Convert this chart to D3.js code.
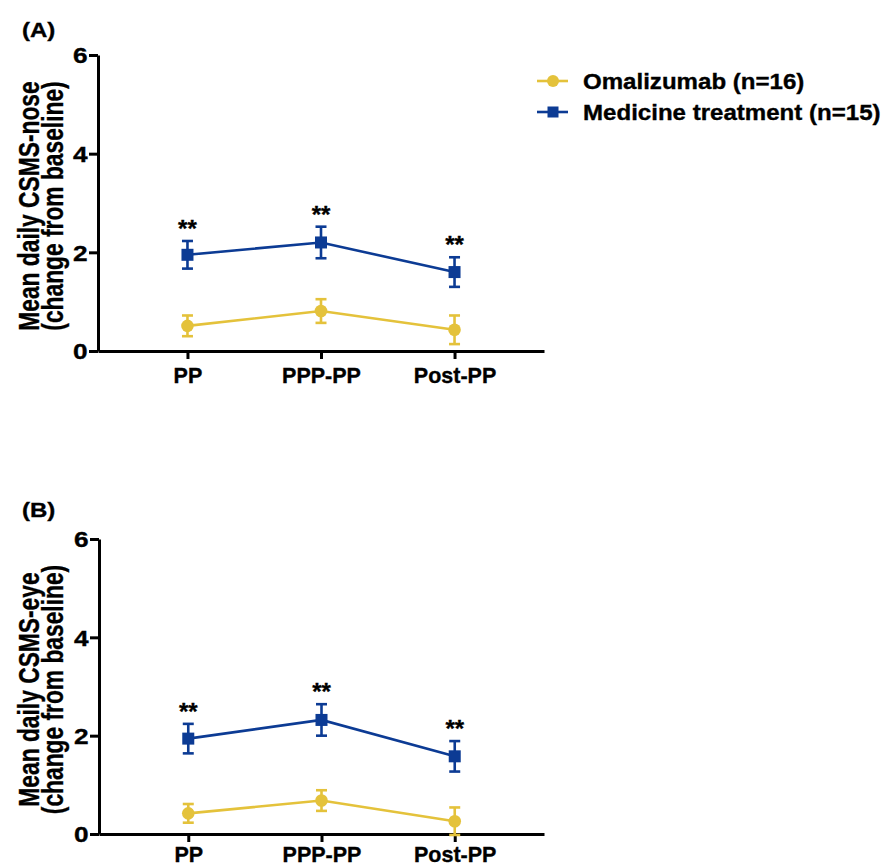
<!DOCTYPE html>
<html>
<head>
<meta charset="utf-8">
<script src="https://cdn.jsdelivr.net/npm/d3@7"></script>
<style>
  html, body { margin: 0; padding: 0; background: #fff; }
  svg { display: block; }
  text { font-family: "Liberation Sans", Arial, sans-serif; font-weight: bold; fill: #000;
         stroke: #000; stroke-width: 0.35px; }
</style>
</head>
<body>
<div id="chart"></div>
<script>
// values
const categories = ["PP", "PPP-PP", "Post-PP"];
const yTicks = [0, 2, 4, 6];
const seriesNames = ["Omalizumab (n=16)", "Medicine treatment (n=15)"];

const noseOmaMean = [0.51, 0.81, 0.43];
const noseOmaErr  = [0.21, 0.24, 0.29];
const noseMedMean = [1.95, 2.20, 1.60];
const noseMedErr  = [0.28, 0.32, 0.30];
const noseStars   = ["**", "**", "**"];

const eyeOmaMean = [0.42, 0.68, 0.26];
const eyeOmaErr  = [0.19, 0.21, 0.28];
const eyeMedMean = [1.94, 2.32, 1.58];
const eyeMedErr  = [0.30, 0.32, 0.31];
const eyeStars   = ["**", "**", "**"];

const YELLOW = "#e4c23b";
const BLUE = "#0c3b94";

const svg = d3.select("#chart").append("svg")
    .attr("width", 882).attr("height", 867);

// text with a horizontal stretch, like the source figure's lettering
const label = (parent, x, y, t, size, sx) => parent.append("text")
    .attr("transform", `translate(${x},${y}) scale(${sx},1)`)
    .attr("font-size", size).text(t);

const panels = [
    {label: "(A)", labelY: 37, title: "Mean daily CSMS-nose", top: 55, bottom: 351, axisX: 98, catY: 32,
     oma: [noseOmaMean, noseOmaErr], med: [noseMedMean, noseMedErr], stars: noseStars},
    {label: "(B)", labelY: 517, title: "Mean daily CSMS-eye", top: 539, bottom: 834, axisX: 99, catY: 28,
     oma: [eyeOmaMean, eyeOmaErr], med: [eyeMedMean, eyeMedErr], stars: eyeStars}
];

panels.forEach(p => {
    const g = svg.append("g");
    const y = d3.scaleLinear().domain([0, 6]).range([p.bottom, p.top]);
    const x = d3.scalePoint().domain(categories).range([p.axisX, 544]).padding(0.67);

    label(g, 22, p.labelY, p.label, 20.5, 1.17);

    // y axis
    const ya = g.append("g").attr("transform", `translate(${p.axisX},0)`)
        .call(d3.axisLeft(y).tickValues(yTicks).tickFormat(d3.format("d"))
            .tickSize(9).tickSizeOuter(0));
    // x axis
    const xa = g.append("g").attr("transform", `translate(0,${p.bottom})`)
        .call(d3.axisBottom(x).tickSize(8).tickSizeOuter(0));
    [ya, xa].forEach(a => {
        a.select(".domain").attr("stroke", "#000").attr("stroke-width", 3);
        a.selectAll(".tick line").attr("stroke", "#000").attr("stroke-width", 3);
        a.selectAll(".tick text").attr("fill", "#000");
        a.attr("font-family", null).attr("font-size", null);
    });
    ya.selectAll(".tick text")
        .attr("x", 0).attr("dy", null).attr("font-size", 21.5)
        .attr("transform", "translate(-10.5,7.7) scale(1.22,1)");
    xa.selectAll(".tick text")
        .attr("y", p.catY).attr("dy", null).attr("font-size", 21.5);

    // y title (two lines, condensed along the text)
    const cy = (p.top + p.bottom) / 2 + 3;
    [p.title, "(change from baseline)"].forEach((t, i) => {
        g.append("text")
            .attr("transform", `translate(${39 + i * 24},${cy}) rotate(-90) scale(0.76,1)`)
            .attr("text-anchor", "middle").attr("font-size", 30).text(t);
    });

    const series = [
        {vals: p.oma, color: YELLOW, shape: "circle"},
        {vals: p.med, color: BLUE, shape: "square"}
    ];
    series.forEach(s => {
        const pts = categories.map((c, i) => ({c, m: s.vals[0][i], e: s.vals[1][i]}));
        g.append("path").datum(pts)
            .attr("fill", "none").attr("stroke", s.color).attr("stroke-width", 2.6)
            .attr("d", d3.line().x(d => x(d.c)).y(d => y(d.m)));
        const eb = g.append("g").attr("stroke", s.color).attr("stroke-width", 2.6);
        const cap = 5.5;
        pts.forEach(d => {
            eb.append("line").attr("x1", x(d.c)).attr("x2", x(d.c))
                .attr("y1", y(d.m - d.e)).attr("y2", y(d.m + d.e));
            [d.m - d.e, d.m + d.e].forEach(v => {
                eb.append("line").attr("x1", x(d.c) - cap).attr("x2", x(d.c) + cap)
                    .attr("y1", y(v)).attr("y2", y(v));
            });
        });
        if (s.shape === "circle") {
            g.selectAll(null).data(pts).enter().append("circle")
                .attr("cx", d => x(d.c)).attr("cy", d => y(d.m))
                .attr("r", 6.3).attr("fill", s.color);
        } else {
            g.selectAll(null).data(pts).enter().append("rect")
                .attr("x", d => x(d.c) - 6).attr("y", d => y(d.m) - 6)
                .attr("width", 12).attr("height", 12).attr("fill", s.color);
        }
    });

    // significance marks above the medicine-treatment error bars
    g.selectAll(null).data(categories).enter().append("text")
        .attr("x", d => x(d))
        .attr("y", (d, i) => y(p.med[0][i] + p.med[1][i]) - 4)
        .attr("text-anchor", "middle").attr("font-size", 24).attr("font-weight", "normal")
        .text((d, i) => p.stars[i]);
});

// legend
const legend = svg.append("g");
seriesNames.forEach((name, i) => {
    const ly = 81 + i * 31;
    const color = i === 0 ? YELLOW : BLUE;
    legend.append("line").attr("x1", 537).attr("x2", 568)
        .attr("y1", ly).attr("y2", ly).attr("stroke", color).attr("stroke-width", 2.6);
    if (i === 0) {
        legend.append("circle").attr("cx", 553).attr("cy", ly).attr("r", 6).attr("fill", color);
    } else {
        legend.append("rect").attr("x", 547.5).attr("y", ly - 5.5)
            .attr("width", 11).attr("height", 11).attr("fill", color);
    }
    label(legend, 583, ly + 8, name, 21.5, 1.12);
});
</script>
</body>
</html>
